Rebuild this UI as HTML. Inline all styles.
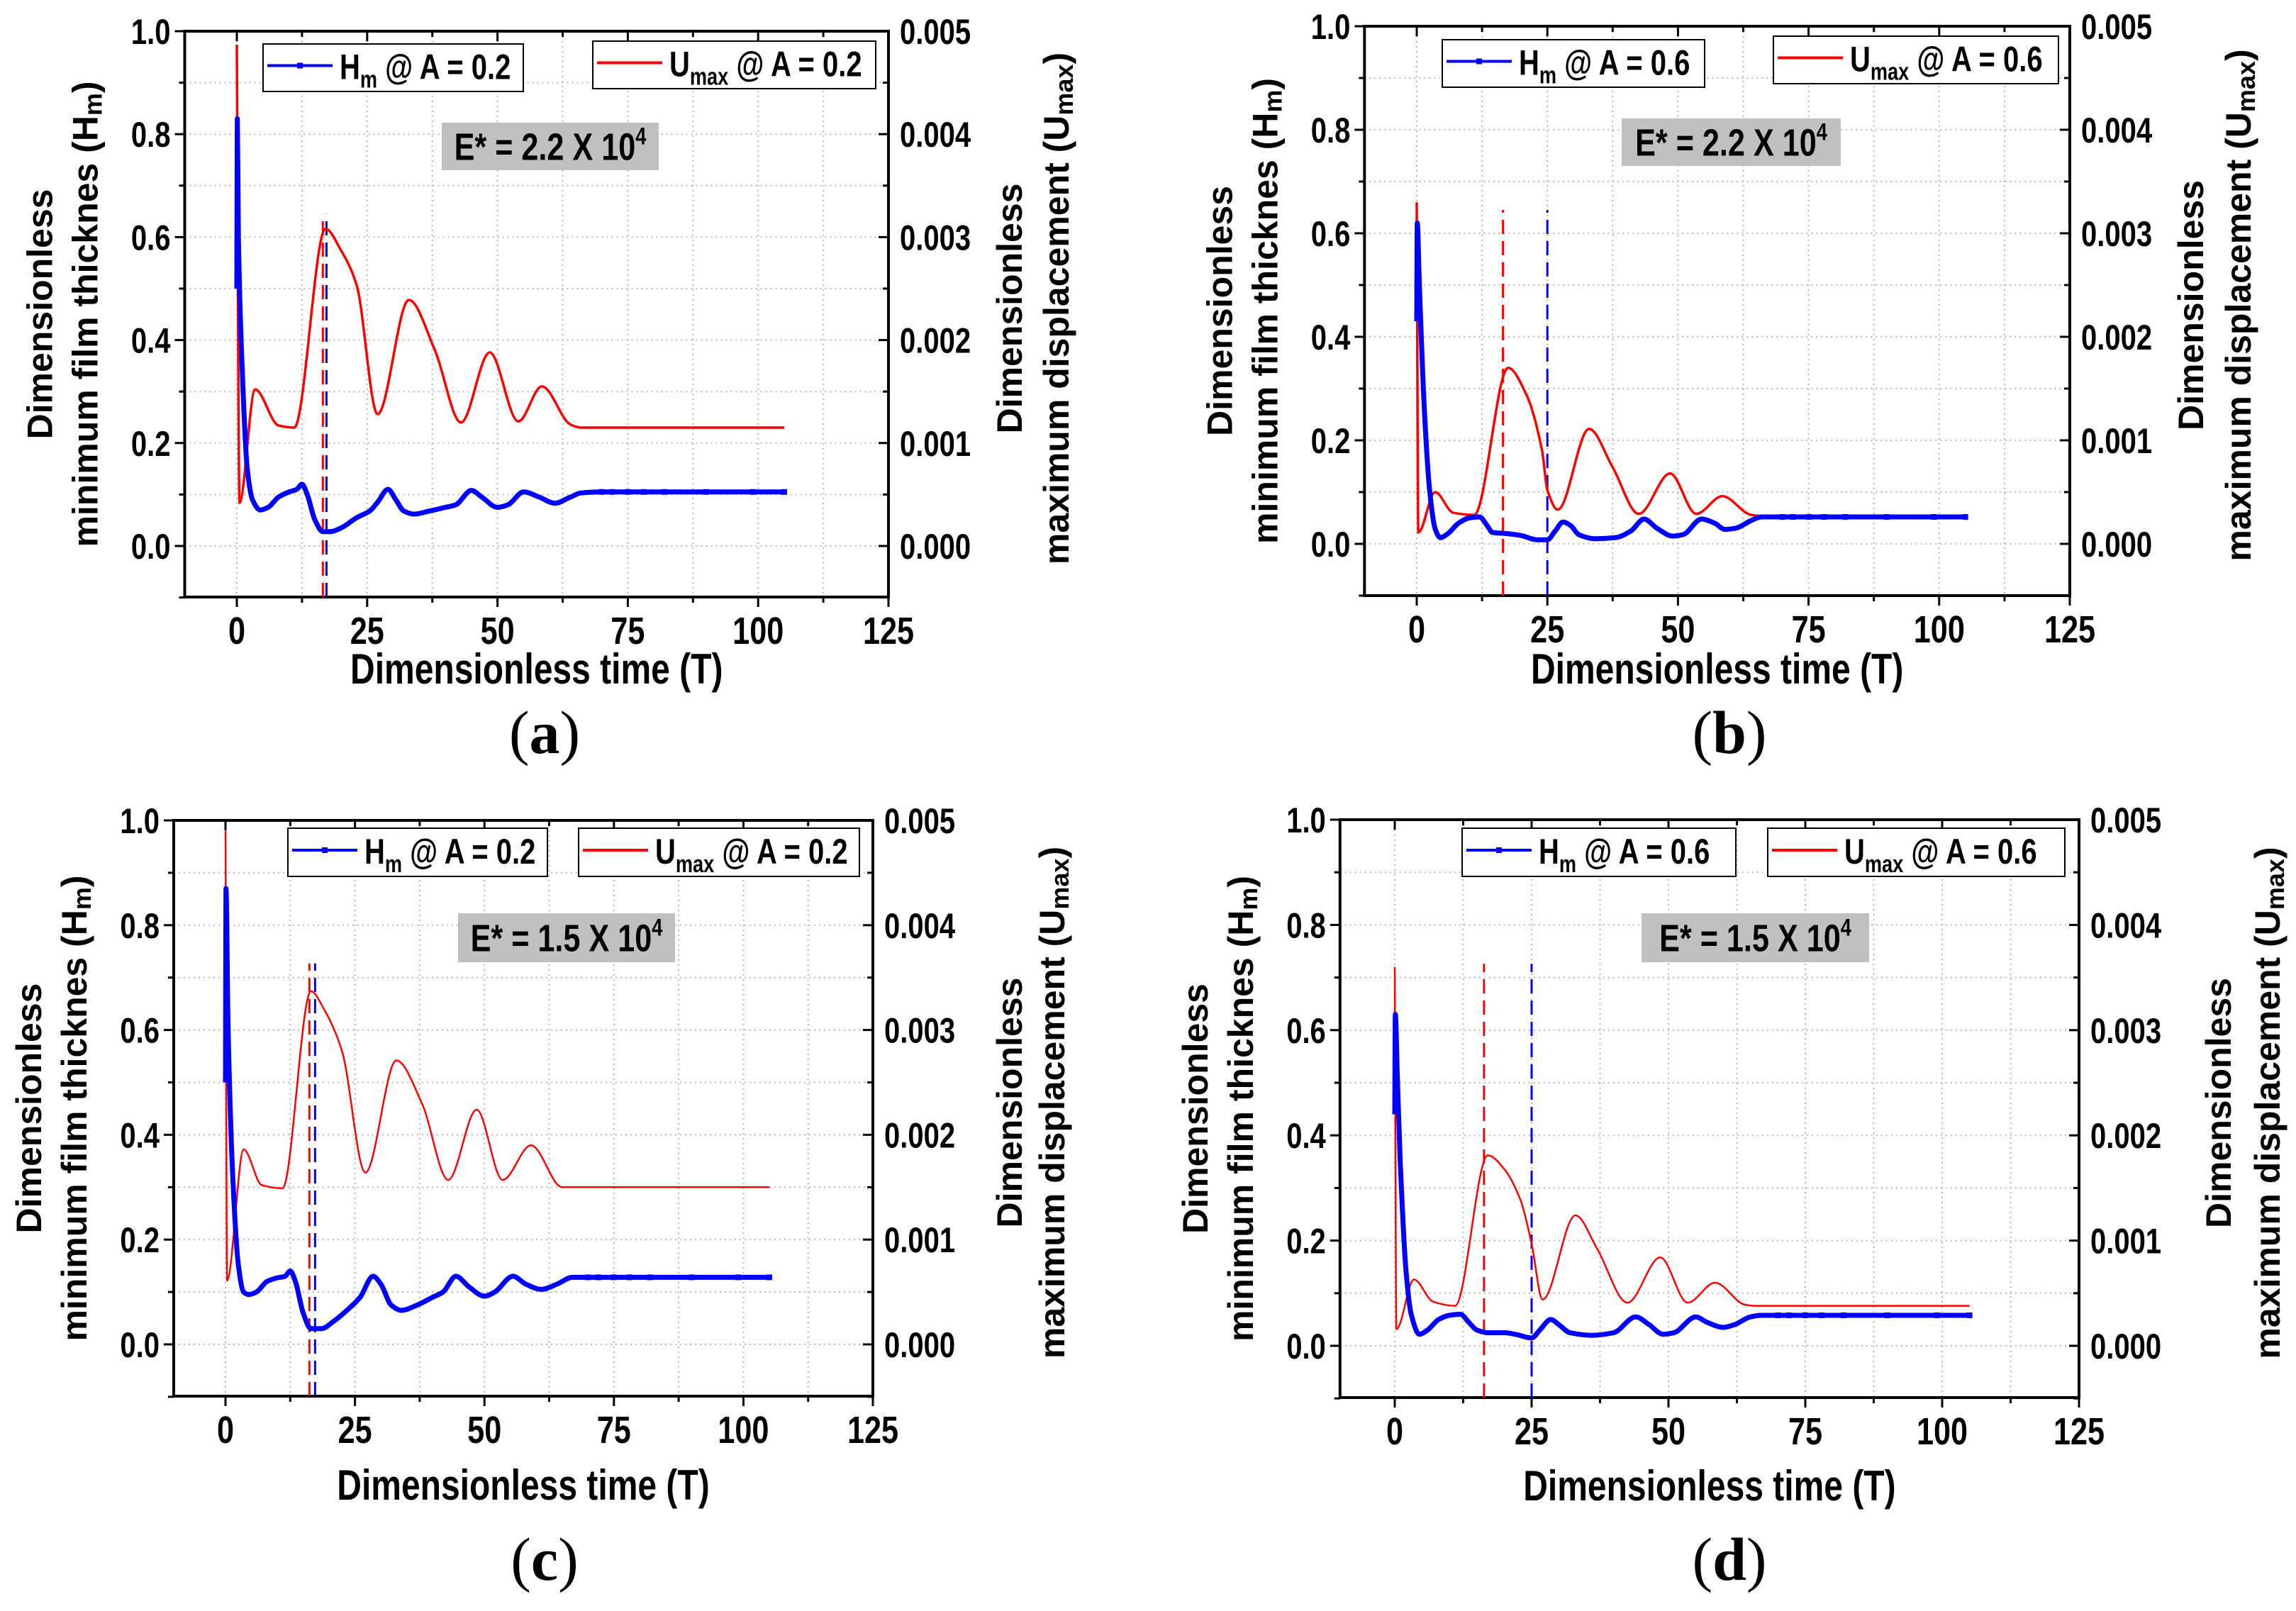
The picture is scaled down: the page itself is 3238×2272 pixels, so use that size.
<!DOCTYPE html>
<html><head><meta charset="utf-8"><style>
html,body{margin:0;padding:0;background:#fff}
svg{display:block}
</style></head><body>
<svg id="fig" width="3238" height="2272" viewBox="0 0 3238 2272" xmlns="http://www.w3.org/2000/svg" font-family="Liberation Sans, Arial, sans-serif"></svg>
<script>
// ---------- data ----------
const xTicks=[0,25,50,75,100,125];
const yTicks=[0.0,0.2,0.4,0.6,0.8,1.0];
const yTickLabels=["0.0","0.2","0.4","0.6","0.8","1.0"];
const y2TickLabels=["0.000","0.001","0.002","0.003","0.004","0.005"];

const aHmT=[0,0.1,0.3,1,2,3,4.5,6,8,10,11.5,12.5,13.5,15,16.5,18,20,23,25.5,27,29,30.5,32,34,37,40,42,45,47,50,52,55,58,61,64,66,70,105];
const aHmV=[0.5,0.83,0.6,0.35,0.15,0.09,0.07,0.075,0.095,0.105,0.11,0.12,0.1,0.05,0.028,0.028,0.035,0.055,0.068,0.085,0.11,0.09,0.068,0.062,0.068,0.075,0.08,0.108,0.095,0.075,0.08,0.105,0.095,0.083,0.095,0.103,0.105,0.105];
const aUT=[0,0.5,3.5,8,11,17,20,23,27,33,38,43,48.5,54,58.5,64,66,105];
const aUV=[0.00487,0.00042,0.00152,0.00117,0.00115,0.00308,0.00287,0.00253,0.00128,0.00239,0.0019,0.0012,0.00188,0.00121,0.00155,0.00118,0.00115,0.00115];

const bHmT=[0,0.1,0.5,1.5,2.5,3.5,4.5,6,8,10,12,13.5,14.5,17,20,23,25,26.5,28,29.5,31,34,38,41,43.5,46,49,51,54.5,57,59,61,64,66,105];
const bHmV=[0.43,0.62,0.5,0.25,0.1,0.03,0.012,0.02,0.04,0.05,0.052,0.035,0.022,0.02,0.016,0.008,0.008,0.025,0.042,0.035,0.018,0.01,0.012,0.025,0.048,0.03,0.015,0.018,0.048,0.04,0.028,0.03,0.045,0.052,0.052];
const bUT=[0,0.3,3.5,7,11,17.5,21,24,25,27,33,37.5,42.5,48.5,53.5,58.5,64,66,105];
const bUV=[0.0033,0.00011,0.0005,0.0003,0.00028,0.0017,0.00144,0.0009,0.00052,0.00033,0.00111,0.00074,0.00029,0.00068,0.00029,0.00046,0.00028,0.00027,0.00027];

const cHmT=[0,0.1,0.5,1.5,2.5,3.5,4.5,6,8,10,11.5,12.5,13.5,15,16.5,18.5,21,24,26,28.5,30,32,34,37,40,42,44.5,47,50,52,55.5,58,61,64,67,105];
const cHmV=[0.5,0.87,0.6,0.3,0.15,0.1,0.095,0.1,0.12,0.127,0.13,0.14,0.12,0.06,0.03,0.03,0.045,0.07,0.09,0.13,0.115,0.075,0.065,0.075,0.09,0.1,0.13,0.11,0.092,0.1,0.13,0.115,0.105,0.115,0.128,0.128];
const cUT=[0,0.3,3.5,7,11,16.5,19,22.5,27,33,38,43,48.5,53.5,59,65,105];
const cUV=[0.0049,0.00061,0.00186,0.00152,0.00149,0.00337,0.0032,0.0028,0.00164,0.00271,0.00229,0.00157,0.00224,0.00157,0.0019,0.0015,0.0015];

const dHmT=[0,0.1,0.5,1,2,3,4.5,6,8,10,12,13.5,15,17,20,22,25,26.5,28.5,30,32,36,40,44,46.5,49,51,55,57,60,62,65,67,105];
const dHmV=[0.44,0.63,0.5,0.35,0.15,0.06,0.022,0.03,0.05,0.058,0.06,0.045,0.03,0.025,0.025,0.022,0.015,0.03,0.05,0.04,0.025,0.02,0.025,0.055,0.04,0.022,0.025,0.055,0.045,0.035,0.04,0.055,0.058,0.058];
const dUT=[0,0.3,3.5,7,11,17,20,23,25,27,33,37,42.5,48.5,53.5,58.5,64,66,105];
const dUV=[0.0036,0.00016,0.00063,0.00042,0.00038,0.00181,0.00168,0.00138,0.00097,0.00044,0.00124,0.00092,0.00041,0.00084,0.00041,0.0006,0.00039,0.00038,0.00038];

const redDash=[16.5,16.5,16.2,16.3];
const blueDash=[17.2,25,17.3,25];
const dashTop=[0.645,0.645,0.727,0.726];
const ampLabels=["0.2","0.6","0.2","0.6"];
const eLabels=["2.2","2.2","1.5","1.5"];
const panelLetters=["a","b","c","d"];

// ---------- geometry ----------
const geo=[
 {id:'a',x0:334,x1:1253,y1:44,y0:770,yb:842,lab:[768,1062],xt:122,rt1:171,rt2:237,
  lb:[371,62,367,67],rb:[836,58,399,67],eb:[623,173,306,67],hm:[aHmT,aHmV],u:[aUT,aUV],rw:3.5},
 {id:'b',x0:1998,x1:2919,y1:37,y0:767,yb:840,lab:[2439,1062],xt:124,rt1:171,rt2:238,
  lb:[2034,56,370,67],rb:[2501,51,402,67],eb:[2287,167,309,67],hm:[bHmT,bHmV],u:[bUT,bUV],rw:3.5},
 {id:'c',x0:318,x1:1231,y1:1157,y0:1896,yb:1969,lab:[768,2228],xt:146,rt1:193,rt2:253,
  lb:[406,1168,366,68],rb:[816,1168,396,68],eb:[646,1288,306,69],hm:[cHmT,cHmV],u:[cUT,cUV],rw:2.5},
 {id:'d',x0:1967,x1:2932,y1:1156,y0:1898,yb:1971,lab:[2439,2228],xt:145,rt1:197,rt2:266,
  lb:[2062,1168,386,68],rb:[2493,1168,419,68],eb:[2315,1288,321,69],hm:[dHmT,dHmV],u:[dUT,dUV],rw:2.5}
];
const NS='http://www.w3.org/2000/svg';
const svg=document.getElementById('fig');
function mk(tag,attrs,parent){const e=document.createElementNS(NS,tag);for(const k in attrs)e.setAttribute(k,attrs[k]);(parent||svg).appendChild(e);return e;}

function monoPath(xs,ys){
  const n=xs.length;if(n<2)return '';
  const d=[],m=new Array(n);
  for(let i=0;i<n-1;i++)d.push((ys[i+1]-ys[i])/(xs[i+1]-xs[i]||1e-6));
  m[0]=d[0];m[n-1]=d[n-2];
  for(let i=1;i<n-1;i++){ if(d[i-1]*d[i]<=0)m[i]=0; else m[i]=2/(1/d[i-1]+1/d[i]); }
  let p='M'+xs[0].toFixed(1)+','+ys[0].toFixed(1);
  for(let i=0;i<n-1;i++){const h=(xs[i+1]-xs[i])/3;
    p+=' C'+(xs[i]+h).toFixed(1)+','+(ys[i]+m[i]*h).toFixed(1)+' '+(xs[i+1]-h).toFixed(1)+','+(ys[i+1]-m[i+1]*h).toFixed(1)+' '+xs[i+1].toFixed(1)+','+ys[i+1].toFixed(1);}
  return p;
}
function narrow(g,x,y,str,size,anchor,name){
  const t=mk('text',{transform:`translate(${x},${y}) scale(0.8,1)`,'text-anchor':anchor,'font-size':size,'font-weight':'bold',fill:'#000'},g);
  t.textContent=str;
  
  
  return t;
}

geo.forEach((G,pi)=>{
  const g=mk('g',{});
  
  
  const sx=t=>G.x0+(t)*(G.x1-G.x0)/125;
  const sy=v=>G.y0-(v)*(G.y0-G.y1);
  const sy2=u=>sy(u/0.005);
  const xL=sx(-10);
  const grid=mk('g',{stroke:'#b8b8b8','stroke-width':2,'stroke-dasharray':'2,5'},g);
  
  
  for(let t=0;t<125;t+=12.5)mk('line',{x1:sx(t),x2:sx(t),y1:G.y1,y2:G.yb},grid);
  for(let v=0;v<=1.0001;v+=0.1){ if(v<0.999) mk('line',{x1:xL,x2:G.x1,y1:sy(v),y2:sy(v)},grid);}
  const fr=mk('rect',{x:xL,y:G.y1,width:G.x1-xL,height:G.yb-G.y1,fill:'none',stroke:'#000','stroke-width':4},g);
  
  
  const tk=mk('g',{stroke:'#000','stroke-width':3},g);
  
  
  for(let t=0;t<=125;t+=12.5){const L=(t%25===0)?14:8;
    mk('line',{x1:sx(t),x2:sx(t),y1:G.yb,y2:G.yb+L},tk);
    mk('line',{x1:sx(t),x2:sx(t),y1:G.y1,y2:G.y1+L},tk);}
  for(let v=-0.1;v<=1.0001;v+=0.1){const maj=Math.abs(Math.round(v*10)%2)===0;const L=maj?14:8;
    mk('line',{x1:xL,x2:xL-L,y1:sy(v),y2:sy(v)},tk);
    mk('line',{x1:G.x1,x2:G.x1-L,y1:sy(v),y2:sy(v)},tk);}
  xTicks.forEach(t=>narrow(g,sx(t),G.yb+66,String(t),54,'middle','x-tick-label'));
  yTicks.forEach((v,i)=>{
    narrow(g,xL-20,sy(v)+18,yTickLabels[i],50,'end','y-tick-label');
    narrow(g,G.x1+16,sy(v)+18,y2TickLabels[i],50,'start','y2-tick-label');
  });
  narrow(g,(xL+G.x1)/2,G.yb+G.xt,'Dimensionless time (T)',60,'middle','x-axis-title');
  const cy=(G.y1+G.yb)/2;
  const lt=mk('text',{transform:`translate(${xL-204},${cy}) rotate(-90)`,'text-anchor':'middle','dominant-baseline':'central','font-size':50,'font-weight':'bold'},g);
  lt.textContent='Dimensionless';
  
  
  const lt2=mk('text',{transform:`translate(${xL-140},${cy}) rotate(-90)`,'text-anchor':'middle','dominant-baseline':'central','font-size':50,'font-weight':'bold'},g);
  lt2.innerHTML='minimum film thicknes (H<tspan font-size="36" baseline-shift="-10">m</tspan>)';
  
  
  const rt=mk('text',{transform:`translate(${G.x1+G.rt1},${cy-8}) rotate(-90)`,'text-anchor':'middle','dominant-baseline':'central','font-size':50,'font-weight':'bold'},g);
  rt.textContent='Dimensionless';
  
  
  const rt2=mk('text',{transform:`translate(${G.x1+G.rt2},${cy-8}) rotate(-90)`,'text-anchor':'middle','dominant-baseline':'central','font-size':50,'font-weight':'bold'},g);
  rt2.innerHTML='maximum displacement (U<tspan font-size="36" baseline-shift="-10">max</tspan>)';
  
  
  const rd=mk('line',{x1:sx(redDash[pi]),x2:sx(redDash[pi]),y1:G.yb,y2:sy(dashTop[pi]),stroke:'#ff0000','stroke-width':3,'stroke-dasharray':'20,10'},g);
  
  
  const bd=mk('line',{x1:sx(blueDash[pi]),x2:sx(blueDash[pi]),y1:G.yb,y2:sy(dashTop[pi]),stroke:'#0000ff','stroke-width':3,'stroke-dasharray':'20,10'},g);
  
  
  const U=mk('path',{d:monoPath(G.u[0].map(sx),G.u[1].map(sy2)),fill:'none',stroke:'#ff0000','stroke-width':G.rw,'stroke-linejoin':'round'},g);
  
  
  const H=mk('path',{d:monoPath(G.hm[0].map(sx),G.hm[1].map(sy)),fill:'none',stroke:'#0000ff','stroke-width':7,'stroke-linejoin':'round'},g);
  
  
  const lastV=G.hm[1][G.hm[1].length-1];
  [70,72,75,78,82,90,99,105].forEach(t=>{
    const m=mk('rect',{x:sx(t)-4,y:sy(lastV)-4,width:8,height:8,fill:'#0000ff'},g);
    
    
  });
  function legend(b,color,main,sub,name){
    const lg=mk('g',{},g);
    
    
    mk('rect',{x:b[0],y:b[1],width:b[2],height:b[3],fill:'#fff',stroke:'#000','stroke-width':2},lg);
    const my=b[1]+b[3]/2;
    mk('line',{x1:b[0]+6,x2:b[0]+98,y1:my-3,y2:my-3,stroke:color,'stroke-width':4},lg);
    if(color==='#0000ff')mk('rect',{x:b[0]+48,y:my-7,width:8,height:8,fill:color},lg);
    const t=mk('text',{transform:`translate(${b[0]+108},${my+16}) scale(0.8,1)`,'font-size':50,'font-weight':'bold'},lg);
    t.innerHTML=main+'<tspan font-size="34" baseline-shift="-12">'+sub+'</tspan><tspan baseline-shift="0"> @ A = '+ampLabels[pi]+'</tspan>';
  }
  legend(G.lb,'#0000ff','H','m','legend-hm');
  legend(G.rb,'#ff0000','U','max','legend-umax');
  const eg=mk('g',{},g);
  
  
  mk('rect',{x:G.eb[0],y:G.eb[1],width:G.eb[2],height:G.eb[3],fill:'#c0c0c0'},eg);
  const et=mk('text',{transform:`translate(${G.eb[0]+G.eb[2]/2},${G.eb[1]+G.eb[3]/2+19}) scale(0.8,1)`,'text-anchor':'middle','font-size':54,'font-weight':'bold'},eg);
  et.innerHTML='E* = '+eLabels[pi]+' X 10<tspan font-size="34" dy="-22">4</tspan>';
  const pl=mk('text',{x:G.lab[0],y:G.lab[1],'text-anchor':'middle','font-size':86,style:'font-family:"Liberation Serif",serif'},g);
  pl.innerHTML='(<tspan font-weight="bold">'+panelLetters[pi]+'</tspan>)';
  
  
});
</script>
</body></html>
